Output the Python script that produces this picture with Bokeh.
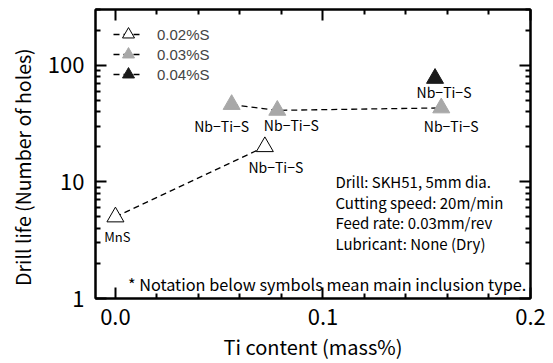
from bokeh.plotting import figure
from bokeh.models import (LinearAxis, LogAxis, FixedTicker, Legend, LegendItem,
                          ColumnDataSource, Label, Range1d)
from bokeh.core.properties import value
from bokeh.embed import file_html
from bokeh.resources import INLINE

# ---- data ----
s002_x = [0.0, 0.072]
s002_y = [5.0, 20.0]
s002_lab = ["MnS", "Nb\u2212Ti\u2212S"]

s003_x = [0.056, 0.078, 0.157]
s003_y = [46.0, 41.0, 43.0]
s003_lab = ["Nb\u2212Ti\u2212S", "Nb\u2212Ti\u2212S", "Nb\u2212Ti\u2212S"]

s004_x = [0.154]
s004_y = [77.0]
s004_lab = ["Nb\u2212Ti\u2212S"]

series_names = ["0.02%S", "0.03%S", "0.04%S"]
x_ticks = [0.0, 0.1, 0.2]
x_minor = [0.02, 0.04, 0.06, 0.08, 0.12, 0.14, 0.16, 0.18]
y_ticks = [1, 10, 100]
y_minor = [2, 3, 4, 5, 6, 7, 8, 9, 20, 30, 40, 50, 60, 70, 80, 90, 200, 300]

y_title = "Drill life (Number of holes)"
x_title = "Ti content (mass%)"
cond_lines = ["Drill: SKH51, 5mm dia.", "Cutting speed: 20m/min",
              "Feed rate: 0.03mm/rev", "Lubricant: None (Dry)"]
footnote = "* Notation below symbols mean main inclusion type."

# ---- styles ----
FONT = "Noto Sans CJK JP"
LEG_FONT = "Liberation Sans"
GRAY = "#a8a8a8"
BLACK = "#1a1a1a"

p = figure(width=553, height=363, output_backend="svg", toolbar_location=None,
           y_axis_type="log", x_range=Range1d(-0.0096, 0.2), y_range=Range1d(1, 300),
           min_border_left=95, min_border_right=23, min_border_top=9,
           min_border_bottom=64)
p.xgrid.visible = False
p.ygrid.visible = False
p.outline_line_color = "black"
p.outline_line_width = 2
p.background_fill_color = "white"
p.border_fill_color = "white"

def style_axis(ax, ticks, minor, labels=True, major_len=10, minor_len=5):
    ax.ticker = FixedTicker(ticks=ticks, minor_ticks=minor)
    ax.major_tick_in = major_len
    ax.major_tick_out = 0
    ax.minor_tick_in = minor_len
    ax.minor_tick_out = 0
    ax.axis_line_width = 2
    ax.major_tick_line_width = 2
    ax.minor_tick_line_width = 2
    ax.major_tick_line_color = "black"
    ax.minor_tick_line_color = "black"
    ax.axis_line_color = "black"
    if not labels:
        ax.major_label_text_font_size = "0px"
        ax.major_label_text_color = None

xa = p.xaxis[0]
style_axis(xa, x_ticks, x_minor, major_len=11, minor_len=5)
xa.major_label_overrides = {0.0: "0.0", 0.1: "0.1", 0.2: "0.2"}
xa.major_label_text_font = FONT
xa.major_label_text_font_size = "22px"
xa.major_label_text_color = "black"
xa.major_label_standoff = 10
xa.axis_label = x_title
xa.axis_label_text_font = FONT
xa.axis_label_text_font_size = "20px"
xa.axis_label_text_font_style = "normal"
xa.axis_label_text_color = "black"
xa.axis_label_standoff = 4

ya = p.yaxis[0]
style_axis(ya, y_ticks, y_minor, major_len=11, minor_len=5)
ya.major_label_text_font = FONT
ya.major_label_text_font_size = "22px"
ya.major_label_text_color = "black"
ya.major_label_standoff = 11
ya.major_label_overrides = {1: "1", 10: "10", 100: "100"}
# trailing no-break spaces shift the centred title slightly downward, as in the original
ya.axis_label = y_title + "\u00a0" * 6
ya.axis_label_text_font = FONT
ya.axis_label_text_font_size = "19.5px"
ya.axis_label_text_font_style = "normal"
ya.axis_label_text_color = "black"
ya.axis_label_standoff = 8

top = LinearAxis()
style_axis(top, x_ticks, x_minor, labels=False, major_len=11, minor_len=5)
p.add_layout(top, "above")
right = LogAxis()
style_axis(right, y_ticks, y_minor, labels=False, major_len=11, minor_len=5)
p.add_layout(right, "right")

# ---- series ----
src2 = ColumnDataSource(dict(x=s002_x, y=s002_y, lab=s002_lab))
src3 = ColumnDataSource(dict(x=s003_x, y=s003_y, lab=s003_lab))
src4 = ColumnDataSource(dict(x=s004_x, y=s004_y, lab=s004_lab))

l2 = p.line("x", "y", source=src2, line_color="black", line_width=1.3, line_dash="6 4")
m2 = p.scatter("x", "y", source=src2, marker="triangle", size=17,
               fill_color="white", line_color="black", line_width=1)
l3 = p.line("x", "y", source=src3, line_color="black", line_width=1.3, line_dash="6 4")
m3 = p.scatter("x", "y", source=src3, marker="triangle", size=17,
               fill_color=GRAY, line_color=GRAY, line_width=1)
l4 = p.line("x", "y", source=src4, line_color="black", line_width=1.3, line_dash="6 4")
m4 = p.scatter("x", "y", source=src4, marker="triangle", size=17,
               fill_color=BLACK, line_color=BLACK, line_width=1)

# point labels (offsets in screen pixels)
lab_style = dict(text_font=value(FONT), text_align="center", text_baseline="middle",
                 text_color="black")
p.text(x=[s002_x[0]], y=[s002_y[0]], text=[s002_lab[0]], x_offset=2, y_offset=20,
       text_font_size="13px", **lab_style)
p.text(x=[s002_x[1]], y=[s002_y[1]], text=[s002_lab[1]], x_offset=11, y_offset=20,
       text_font_size="14px", **lab_style)
offs3 = [(-10, 21), (14, 15), (10, 18)]
for xv, yv, t, (dx, dy) in zip(s003_x, s003_y, s003_lab, offs3):
    p.text(x=[xv], y=[yv], text=[t], x_offset=dx, y_offset=dy,
           text_font_size="14px", **lab_style)
p.text(x=s004_x, y=s004_y, text=s004_lab, x_offset=9, y_offset=14,
       text_font_size="14px", **lab_style)

# legend: one single-row legend per series so the rows can sit close together
leg_bottoms = [248, 228, 208]   # pixels from the frame bottom
for name, rends, yb in zip(series_names, [[l2, m2], [l3, m3], [l4, m4]], leg_bottoms):
    lg = Legend(items=[LegendItem(label=name, renderers=rends)], location=(18, yb))
    lg.label_text_font = LEG_FONT
    lg.label_text_font_size = "15px"
    lg.glyph_width = 30
    lg.glyph_height = 32
    lg.padding = 0
    lg.margin = 0
    lg.label_standoff = 14
    lg.label_height = 18
    lg.border_line_color = None
    lg.background_fill_alpha = 0
    p.add_layout(lg)

# conditions text
cond_y = [10.0, 6.7, 4.45, 2.95]
for t, yv in zip(cond_lines, cond_y):
    p.add_layout(Label(x=0.106, y=yv, text=t, text_font=FONT, text_font_size="15px",
                       text_baseline="middle", text_color="black"))
p.add_layout(Label(x=0.006, y=1.34, text=footnote, text_font=FONT,
                   text_font_size="16.3px", text_baseline="middle", text_color="black"))

open("out.html", "w").write(file_html(p, INLINE))
